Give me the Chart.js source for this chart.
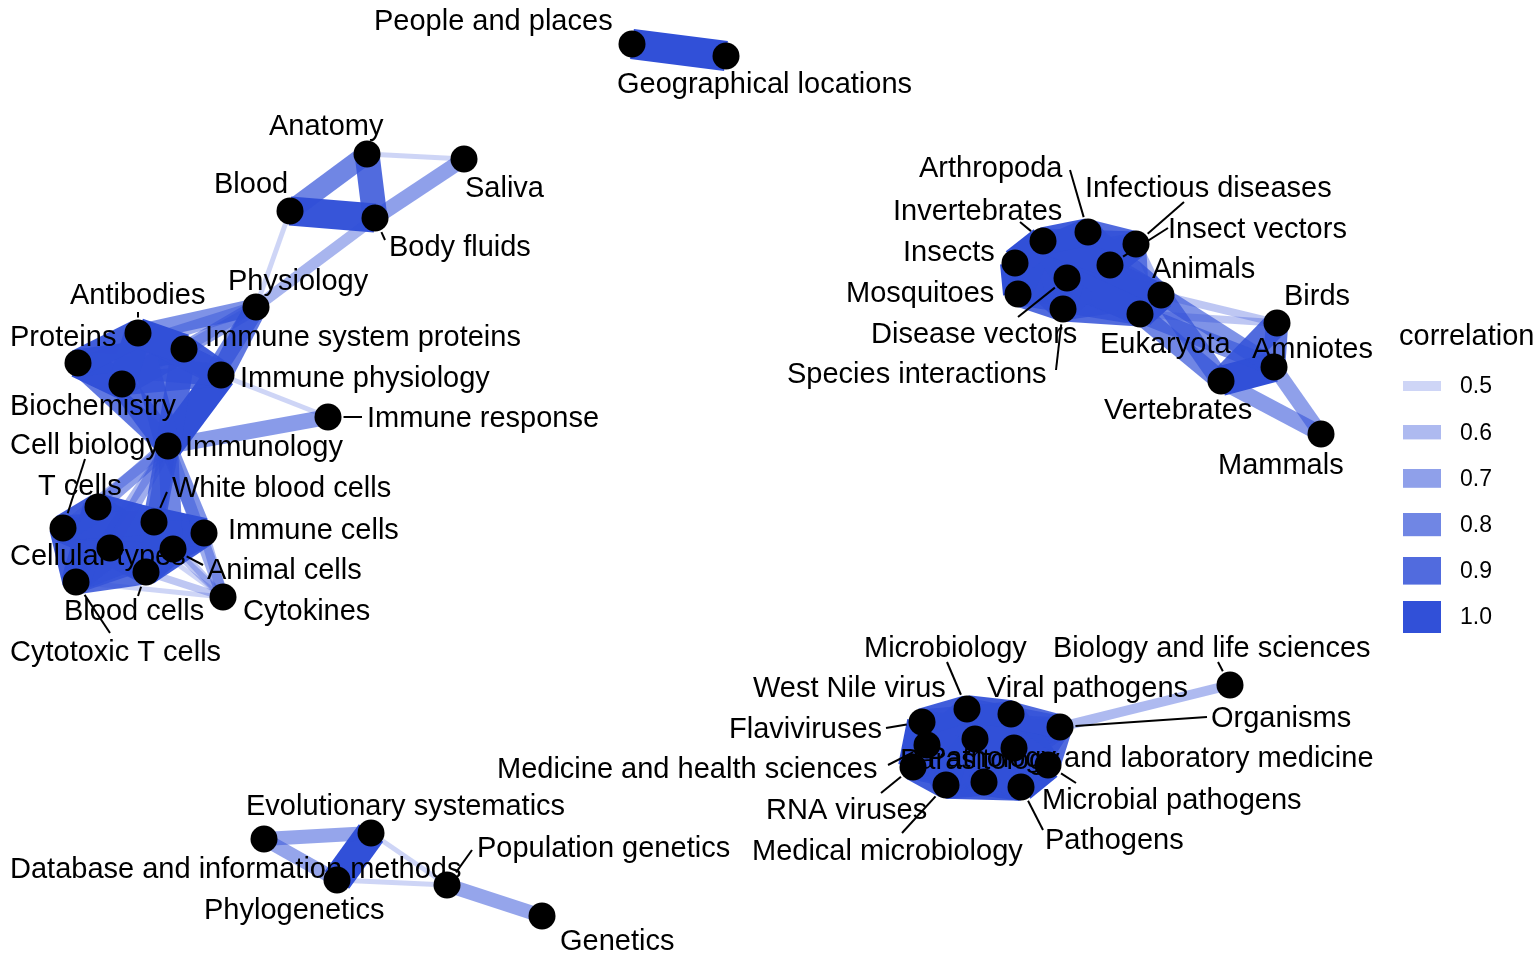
<!DOCTYPE html>
<html>
<head>
<meta charset="utf-8">
<script src="https://cdn.jsdelivr.net/npm/chart.js@4.4.1/dist/chart.umd.min.js"></script>
<style>
  html, body { margin: 0; padding: 0; background: #ffffff; }
  #wrap { position: relative; width: 1536px; height: 960px; }
</style>
</head>
<body>
<div id="wrap"><canvas id="netChart"></canvas></div>
<script>
// Nodes (layout coordinates of the graph)
const nodeIds = ['pp','gl','ana','sal','bld','bf','phy','ab','pro','isp','bio','iph','ire','imm',
    'cbi','tc','wbc','ic','ct','ac','bc','ctc','cyt',
    'inv','art','iv','ins','id','dv','mos','si','ani','euk','bir','amn','ver','mam',
    'mb','vp','fl','org','wnv','mhs','plm','mp','rna','mm','par','pat','bls',
    'es','db','phg','pg','gen'];
const nodeLabels = ['People and places','Geographical locations','Anatomy','Saliva','Blood','Body fluids',
    'Physiology','Antibodies','Proteins','Immune system proteins','Biochemistry','Immune physiology',
    'Immune response','Immunology','Cell biology','T cells','White blood cells','Immune cells',
    'Cellular types','Animal cells','Blood cells','Cytotoxic T cells','Cytokines',
    'Invertebrates','Arthropoda','Insect vectors','Insects','Infectious diseases','Disease vectors',
    'Mosquitoes','Species interactions','Animals','Eukaryota','Birds','Amniotes','Vertebrates','Mammals',
    'Microbiology','Viral pathogens','Flaviviruses','Organisms','West Nile virus',
    'Medicine and health sciences','Pathology and laboratory medicine','Microbial pathogens',
    'RNA viruses','Medical microbiology','Parasitology','Pathogens','Biology and life sciences',
    'Evolutionary systematics','Database and information methods','Phylogenetics',
    'Population genetics','Genetics'];
const nodeX = [632,726,367,464,290,375,256,138,78,184,122,221,328,168,
    63,98,154,204,110,173,146,76,223,
    1043,1088,1110,1015,1136,1067,1018,1063,1161,1140,1277,1274,1221,1321,
    967,1011,922,1060,975,927,1014,1048,913,946,984,1021,1230,
    371,264,337,447,542];
const nodeY = [44,56,154,159,211,218,307,333,363,349,384,375,417,446,
    528,507,522,533,548,549,572,582,597,
    241,232,265,263,244,278,294,309,295,314,323,367,381,434,
    709,714,722,727,739,745,748,765,767,785,782,787,685,
    833,839,880,885,916];

// Edges: [from, to, correlation]
const edges = [
    ['pp','gl',1.0],
    // anatomy
    ['ana','bf',0.9],['bld','bf',0.98],['ana','bld',0.8],['ana','sal',0.5],['sal','bf',0.7],
    ['bf','phy',0.62],['bld','phy',0.5],
    // immune proteins
    ['ab','pro',0.95],['ab','isp',1.0],['ab','bio',0.95],['ab','iph',0.9],['ab','imm',0.9],
    ['pro','isp',0.95],['pro','bio',1.0],['pro','iph',0.85],['pro','imm',0.85],
    ['isp','bio',0.9],['isp','iph',0.95],['isp','imm',0.9],
    ['bio','iph',0.85],['bio','imm',0.9],['iph','imm',1.0],
    ['phy','ab',0.75],['phy','isp',0.7],['phy','iph',0.85],['phy','imm',0.8],['phy','pro',0.65],['phy','bio',0.6],
    ['ire','imm',0.72],['ire','iph',0.5],
    // immunology to cells
    ['imm','cbi',0.6],['imm','tc',0.7],['imm','wbc',0.85],['imm','ic',0.75],['imm','ct',0.65],
    ['imm','ac',0.8],['imm','bc',0.75],['imm','ctc',0.6],['imm','cyt',0.65],
    // cells
    ['cbi','tc',0.95],['cbi','wbc',0.9],['cbi','ic',0.85],['cbi','ct',1.0],['cbi','ac',0.9],['cbi','bc',0.9],['cbi','ctc',0.95],
    ['tc','wbc',0.95],['tc','ic',0.9],['tc','ct',0.9],['tc','ac',0.85],['tc','bc',0.85],['tc','ctc',1.0],
    ['wbc','ic',1.0],['wbc','ct',0.9],['wbc','ac',0.95],['wbc','bc',1.0],['wbc','ctc',0.85],
    ['ic','ct',0.85],['ic','ac',0.95],['ic','bc',0.95],['ic','ctc',0.8],
    ['ct','ac',0.95],['ct','bc',0.9],['ct','ctc',0.9],
    ['ac','bc',0.95],['ac','ctc',0.85],['bc','ctc',0.9],
    ['cyt','ic',0.6],['cyt','ac',0.55],['cyt','bc',0.55],['cyt','ctc',0.5],['cyt','wbc',0.55],['cyt','tc',0.5],
    // animals
    ['inv','art',0.95],['inv','iv',0.9],['inv','ins',1.0],['inv','id',0.9],['inv','dv',0.95],['inv','mos',0.95],['inv','si',0.9],['inv','ani',0.85],['inv','euk',0.85],
    ['art','iv',0.95],['art','ins',0.95],['art','id',0.9],['art','dv',0.95],['art','mos',0.9],['art','si',0.9],['art','ani',0.85],['art','euk',0.85],
    ['iv','ins',0.9],['iv','id',0.95],['iv','dv',1.0],['iv','mos',0.95],['iv','si',0.9],['iv','ani',0.8],['iv','euk',0.85],
    ['ins','id',0.85],['ins','dv',0.95],['ins','mos',1.0],['ins','si',0.9],['ins','ani',0.8],['ins','euk',0.85],
    ['id','dv',0.95],['id','mos',0.9],['id','si',0.9],['id','ani',0.6],['id','euk',0.8],
    ['dv','mos',0.95],['dv','si',0.95],['dv','ani',0.85],['dv','euk',0.9],
    ['mos','si',0.9],['mos','ani',0.8],['mos','euk',0.85],
    ['si','ani',0.85],['si','euk',0.9],['ani','euk',1.0],
    ['ani','bir',0.55],['euk','bir',0.55],['ani','ver',0.8],['euk','ver',0.8],['ani','amn',0.75],['euk','amn',0.75],
    ['ver','amn',1.0],['ver','bir',0.9],['amn','bir',0.85],['mam','ver',0.72],['mam','amn',0.7],
    // microbiology
    ['mb','vp',0.95],['mb','fl',0.95],['mb','org',0.85],['mb','wnv',1.0],['mb','mhs',0.9],['mb','plm',0.9],['mb','mp',0.9],['mb','rna',0.9],['mb','mm',0.95],['mb','par',0.9],['mb','pat',0.9],
    ['vp','fl',0.9],['vp','org',0.9],['vp','wnv',0.95],['vp','mhs',0.85],['vp','plm',0.95],['vp','mp',0.95],['vp','rna',0.9],['vp','mm',0.9],['vp','par',0.9],['vp','pat',0.95],
    ['fl','org',0.8],['fl','wnv',0.95],['fl','mhs',0.95],['fl','plm',0.85],['fl','mp',0.85],['fl','rna',1.0],['fl','mm',0.9],['fl','par',0.9],['fl','pat',0.85],
    ['org','wnv',0.85],['org','mhs',0.8],['org','plm',0.85],['org','mp',0.9],['org','rna',0.8],['org','mm',0.8],['org','par',0.85],['org','pat',0.85],
    ['wnv','mhs',0.9],['wnv','plm',0.9],['wnv','mp',0.9],['wnv','rna',0.95],['wnv','mm',0.95],['wnv','par',0.9],['wnv','pat',0.9],
    ['mhs','plm',0.95],['mhs','mp',0.9],['mhs','rna',0.9],['mhs','mm',0.95],['mhs','par',0.95],['mhs','pat',0.9],
    ['plm','mp',0.95],['plm','rna',0.85],['plm','mm',0.9],['plm','par',0.95],['plm','pat',0.95],
    ['mp','rna',0.85],['mp','mm',0.95],['mp','par',0.9],['mp','pat',1.0],
    ['rna','mm',0.95],['rna','par',0.9],['rna','pat',0.85],
    ['mm','par',0.95],['mm','pat',0.95],['par','pat',0.95],
    ['org','bls',0.6],
    // evolution
    ['es','db',0.68],['db','phg',0.68],['es','phg',1.0],['es','pg',0.5],['phg','pg',0.5],['pg','gen',0.68]
];

const legendValues = [0.5, 0.6, 0.7, 0.8, 0.9, 1.0];
const legendTitle = 'correlation';

// Label placement (repelled text positions, left edge + middle) and leader start points
const labelPlace = {
    pp:[374,21], gl:[617,84], ana:[269,126], sal:[465,188], bld:[214,184], bf:[389,247],
    phy:[228,281], ab:[70,295], pro:[10,337], isp:[205,337], bio:[10,406], iph:[240,378],
    ire:[367,418], imm:[185,447], cbi:[10,445], tc:[38,486], wbc:[172,488], ic:[228,530],
    ct:[10,556], ac:[207,570], bc:[64,611], ctc:[10,652], cyt:[243,611],
    inv:[893,211], art:[919,168], iv:[1168,229], ins:[903,252], id:[1085,188], dv:[871,334],
    mos:[846,293], si:[787,374], ani:[1152,269], euk:[1100,344], bir:[1284,296], amn:[1252,349],
    ver:[1104,410], mam:[1218,465],
    mb:[864,648], vp:[987,688], fl:[729,729], org:[1211,718], wnv:[753,688], mhs:[497,769],
    plm:[927,758], mp:[1042,800], rna:[766,810], mm:[752,851], par:[900,760], pat:[1045,840],
    bls:[1053,648],
    es:[246,806], db:[10,869], phg:[204,910], pg:[477,848], gen:[560,941]
};
const leaderFrom = {
    bf:[385,240], ab:[138,312], ire:[362,417], cbi:[85,459], wbc:[167,492], ac:[203,565],
    bc:[138,596], ctc:[110,633], inv:[1020,222], art:[1070,170], iv:[1168,228], id:[1184,202],
    dv:[1018,317], si:[1056,370], mb:[947,662], fl:[886,728], org:[1207,717], mhs:[888,765],
    mp:[1076,783], rna:[881,793], mm:[902,833], pat:[1043,830], bls:[1218,662], pg:[472,850]
};

const NODE_R = 13.5;
const FONT = '"Liberation Sans", Arial, Helvetica, sans-serif';

function edgeColor(r) {
    const a = Math.max(0.1, Math.min(1, 0.24 + (r - 0.5) * 1.52));
    return `rgba(49, 80, 216, ${a.toFixed(3)})`;
}
function edgeWidth(r) {
    return Math.max(2, 50 * r - 20);
}

function nodeIndex(id) { return nodeIds.indexOf(id); }

// build datasets: nodes first (drawn on top), then one line per edge
function buildDatasets() {
    const ds = [];
    ds.push({
        label: 'nodes',
        data: nodeIds.map((id, i) => ({ x: nodeX[i], y: nodeY[i] })),
        pointRadius: NODE_R,
        pointBackgroundColor: '#000000',
        pointBorderWidth: 0,
        showLine: false,
        clip: false,
        order: 0
    });
    edges.forEach(([a, b, r]) => {
        const i = nodeIndex(a), j = nodeIndex(b);
        ds.push({
            label: a + '-' + b,
            data: [{ x: nodeX[i], y: nodeY[i] }, { x: nodeX[j], y: nodeY[j] }],
            showLine: true,
            borderColor: edgeColor(r),
            borderWidth: edgeWidth(r),
            borderCapStyle: 'butt',
            pointRadius: 0,
            clip: false,
            order: 1
        });
    });
    return ds;
}

// node labels with leader segments
const labelPlugin = {
    id: 'nodeLabels',
    afterDatasetsDraw(chart) {
        const { ctx, scales: { x, y } } = chart;
        ctx.save();
        ctx.strokeStyle = '#000000';
        ctx.lineWidth = 2;
        Object.keys(leaderFrom).forEach(id => {
            const i = nodeIndex(id);
            const nx = x.getPixelForValue(nodeX[i]), ny = y.getPixelForValue(nodeY[i]);
            const sx = x.getPixelForValue(leaderFrom[id][0]), sy = y.getPixelForValue(leaderFrom[id][1]);
            const d = Math.hypot(nx - sx, ny - sy);
            const k = Math.max(0, (d - NODE_R - 2) / d);
            ctx.beginPath();
            ctx.moveTo(sx, sy);
            ctx.lineTo(sx + (nx - sx) * k, sy + (ny - sy) * k);
            ctx.stroke();
        });
        ctx.fillStyle = '#000000';
        ctx.font = '29px ' + FONT;
        ctx.textAlign = 'left';
        ctx.textBaseline = 'middle';
        nodeIds.forEach((id, i) => {
            const p = labelPlace[id];
            ctx.fillText(nodeLabels[i], x.getPixelForValue(p[0]), y.getPixelForValue(p[1]) + 1);
        });
        ctx.restore();
    }
};

// correlation legend on the right
const legendPlugin = {
    id: 'corrLegend',
    afterDraw(chart) {
        const { ctx } = chart;
        ctx.save();
        ctx.fillStyle = '#000000';
        ctx.font = '29px ' + FONT;
        ctx.textBaseline = 'middle';
        ctx.fillText(legendTitle, 1399, 337);
        legendValues.forEach((v, k) => {
            const cy = 386 + k * 46.2;
            const h = 10 + (v - 0.5) * 44;
            ctx.fillStyle = edgeColor(v);
            ctx.fillRect(1403, cy - h / 2, 38, h);
            ctx.fillStyle = '#000000';
            ctx.font = '23px ' + FONT;
            ctx.fillText(v.toFixed(1), 1460, cy + 1);
        });
        ctx.restore();
    }
};

function initializeNetworkChart() {
    const el = document.getElementById('netChart');
    return new Chart(el.getContext('2d'), {
        type: 'scatter',
        data: { datasets: buildDatasets() },
        options: {
            responsive: true,
            maintainAspectRatio: false,
            animation: false,
            events: [],
            layout: { padding: 0, autoPadding: false },
            plugins: { legend: { display: false }, tooltip: { enabled: false } },
            scales: {
                x: { type: 'linear', min: 0, max: 1536, display: false },
                y: { type: 'linear', min: 0, max: 960, reverse: true, display: false }
            }
        },
        plugins: [labelPlugin, legendPlugin]
    });
}

initializeNetworkChart();
</script>
</body>
</html>
